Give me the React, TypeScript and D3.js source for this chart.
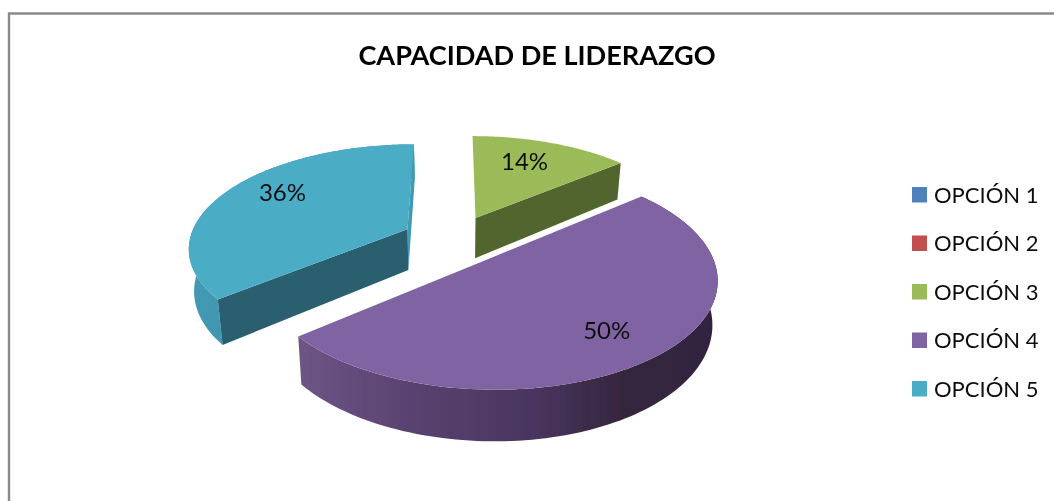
import React from "react";
import * as d3 from "d3";

const title = "CAPACIDAD DE LIDERAZGO";
const categories = ["OPCIÓN 1", "OPCIÓN 2", "OPCIÓN 3", "OPCIÓN 4", "OPCIÓN 5"];
const values = [0, 0, 14, 50, 36];
const labels = ["", "", "14%", "50%", "36%"];
const colors = ["#4f81bd", "#c0504d", "#9bbb59", "#8064a2", "#4bacc6"];
const cutColors = ["#3a5f8c", "#8e3b39", "#53652d", "#40305a", "#2a5f6f"];

// projection of the tilted, exploded pie
const CX = 454, CY = 239.5, A = 218, B = 102, K = 0.165, DEPTH = 41.5, BOTTOM_X = 0.98, EXPLODE = 0.24;
const labelRadius = [0, 0, 0.71, 0.75, 0.75];
const labelTurn = [0, 0, -3, 2, 7];

type P = [number, number];
function project(X: number, Y: number, bottom = false): P {
  const s = 1 / (1 + K * Y);
  const x = A * X * s;
  const y = CY - B * Y * s;
  return bottom ? [CX + x * BOTTOM_X, y + DEPTH * s] : [CX + x, y];
}

const pie = d3.pie<number>().sort(null).startAngle(0).endAngle(2 * Math.PI);
const arcs = pie(values);

function sliceGeometry(i: number) {
  const a = arcs[i];
  const mid = (a.startAngle + a.endAngle) / 2;
  const ox = EXPLODE * Math.sin(mid), oy = EXPLODE * Math.cos(mid);
  const angles = d3.range(0, 121).map(t => a.startAngle + ((a.endAngle - a.startAngle) * t) / 120);
  const rim = (b: boolean) => angles.map(t => project(ox + Math.sin(t), oy + Math.cos(t), b));
  return { a, mid, ox, oy, apexTop: project(ox, oy), apexBottom: project(ox, oy, true), rimTop: rim(false), rimBottom: rim(true) };
}

const closed = d3.line<P>().curve(d3.curveLinearClosed);

const wallGradients: Record<number, [number, string][]> = {
  3: [[0, "#6c5585"], [0.25, "#5a4372"], [0.55, "#4a3660"], [0.78, "#36263f"], [1, "#32243f"]],
  4: [[0, "#4299b3"], [1, "#3c8aa2"]],
};

export default function App() {
  const order = [2, 4, 3];
  return (
    <svg width={1054} height={501} style={{ position: "absolute", left: 0, top: 0, background: "#fff" }}>
      <defs>
        <filter id="soft" x="-5%" y="-5%" width="110%" height="110%">
          <feGaussianBlur stdDeviation="0.45" />
        </filter>
        {Object.entries(wallGradients).map(([k, stops]) => {
          const g = sliceGeometry(+k);
          const xs = d3.extent(g.rimBottom, d => d[0]) as [number, number];
          return (
            <linearGradient key={k} id={`wall${k}`} gradientUnits="userSpaceOnUse" x1={xs[0]} x2={xs[1]} y1={0} y2={0}>
              {stops.map(([o, c]) => <stop key={o} offset={o} stopColor={c} />)}
            </linearGradient>
          );
        })}
      </defs>
      <g filter="url(#soft)">
        <path d="M9 501 V13.5 H1054" fill="none" stroke="#8a8a8a" strokeWidth={2.4} />
        <text x={537} y={65} textAnchor="middle" fontFamily="Lato, sans-serif" fontWeight={700} fontSize={27.1} fill="#000">{title}</text>
        {order.map(i => {
          const g = sliceGeometry(i);
          const n = g.rimTop.length - 1;
          const wall = [...g.rimTop, ...[...g.rimBottom].reverse()] as P[];
          const startFace = [g.apexTop, g.rimTop[0], g.rimBottom[0], g.apexBottom] as P[];
          const endFace = [g.apexTop, g.rimTop[n], g.rimBottom[n], g.apexBottom] as P[];
          const top = [g.apexTop, ...g.rimTop] as P[];
          return (
            <g key={i}>
              {i === 2 && <path d={closed(endFace) ?? ""} fill={cutColors[i]} />}
              {i === 4 && <path d={closed(wall) ?? ""} fill={`url(#wall${i})`} />}
              {i === 4 && <path d={closed(endFace) ?? ""} fill="#3f9ab4" />}
              {i === 4 && <path d={closed(startFace) ?? ""} fill={cutColors[i]} />}
              {i === 3 && <path d={closed(wall) ?? ""} fill={`url(#wall${i})`} />}
              <path d={closed(top) ?? ""} fill={colors[i]} />
            </g>
          );
        })}
        {order.map(i => {
          const g = sliceGeometry(i);
          const t = g.mid + (labelTurn[i] * Math.PI) / 180;
          const r = labelRadius[i];
          const [x, y] = project(g.ox + r * Math.sin(t), g.oy + r * Math.cos(t));
          return (
            <text key={i} x={x} y={y} dy="0.36em" textAnchor="middle" fontFamily="Lato, sans-serif" fontSize={24} fill="#111">
              {labels[i]}
            </text>
          );
        })}
        {categories.map((c, i) => {
          const y = 195 + i * 48.5;
          return (
            <g key={c}>
              <rect x={912} y={y - 8} width={15} height={15.5} fill={colors[i]} />
              <text x={934} y={y} dy="0.36em" fontFamily="Lato, sans-serif" fontSize={22} fill="#111">{c}</text>
            </g>
          );
        })}
      </g>
    </svg>
  );
}
